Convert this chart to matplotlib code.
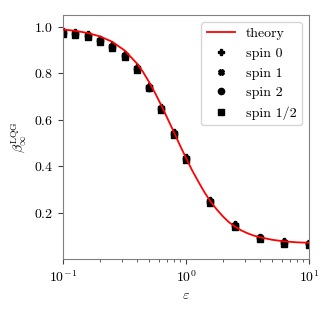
import matplotlib
matplotlib.use("Agg")
import matplotlib.pyplot as plt

plt.rcParams['font.family'] = 'serif'
plt.rcParams['font.serif'] = ['cmr10', 'DejaVu Serif']
plt.rcParams['mathtext.fontset'] = 'cm'
plt.rcParams['axes.formatter.use_mathtext'] = True
plt.rcParams['axes.unicode_minus'] = False

# theory curve
eps_th = [0.1, 0.126, 0.158, 0.2, 0.251, 0.316, 0.398, 0.447, 0.5, 0.562, 0.631,
          0.708, 0.794, 0.891, 1.0, 1.12, 1.26, 1.41, 1.58, 1.78, 2.0, 2.24,
          2.51, 2.82, 3.16, 3.55, 3.98, 5.01, 6.31, 7.94, 10.0]
beta_th = [0.988, 0.982, 0.973, 0.958, 0.935, 0.898, 0.842, 0.805, 0.762, 0.713, 0.660,
           0.604, 0.548, 0.490, 0.435, 0.382, 0.333, 0.288, 0.248, 0.213, 0.183, 0.158,
           0.139, 0.123, 0.111, 0.101, 0.094, 0.083, 0.076, 0.072, 0.070]

# simulation points
eps = [0.1, 0.126, 0.158, 0.2, 0.251, 0.316, 0.398, 0.5, 0.631, 0.794, 1.0,
       1.58, 2.51, 3.98, 6.31, 10.0]
spin0 = [0.982, 0.977, 0.967, 0.946, 0.920, 0.882, 0.825, 0.746, 0.654, 0.546, 0.439,
         0.254, 0.149, 0.097, 0.078, 0.071]
spin1 = [0.978, 0.973, 0.963, 0.942, 0.916, 0.878, 0.821, 0.742, 0.650, 0.542, 0.435,
         0.250, 0.145, 0.093, 0.074, 0.067]
spin2 = [0.974, 0.969, 0.959, 0.938, 0.912, 0.874, 0.817, 0.738, 0.646, 0.538, 0.431,
         0.246, 0.141, 0.089, 0.070, 0.063]
spin_half = [0.970, 0.965, 0.955, 0.934, 0.908, 0.870, 0.813, 0.734, 0.642, 0.534, 0.427,
             0.242, 0.137, 0.085, 0.066, 0.059]

fig = plt.figure(figsize=(3.34, 3.14), dpi=100)
ax = fig.add_axes([0.189, 0.175, 0.736, 0.777])

ax.plot(eps_th, beta_th, color='red', lw=1.3, label='theory', zorder=3)
ax.plot(eps, spin0, 'P', color='k', ms=4, ls='none', label='spin 0')
ax.plot(eps, spin1, 'X', color='k', ms=4, ls='none', label='spin 1')
ax.plot(eps, spin2, 'o', color='k', ms=4.5, ls='none', label='spin 2')
ax.plot(eps, spin_half, 's', color='k', ms=4, ls='none', label='spin 1/2')

ax.set_xscale('log')
ax.set_xlim(0.1, 10)
ax.set_ylim(0, 1.05)
ax.set_yticks([0.2, 0.4, 0.6, 0.8, 1.0])
ax.set_xlabel(r'$\varepsilon$')
ax.set_ylabel(r'$\beta_\infty^{\rm LQG}$')

for s in ax.spines.values():
    s.set_color('#808080')
ax.tick_params(which='both', color='#404040')

ax.legend(loc='upper right')

fig.savefig('out.png', dpi=100)
